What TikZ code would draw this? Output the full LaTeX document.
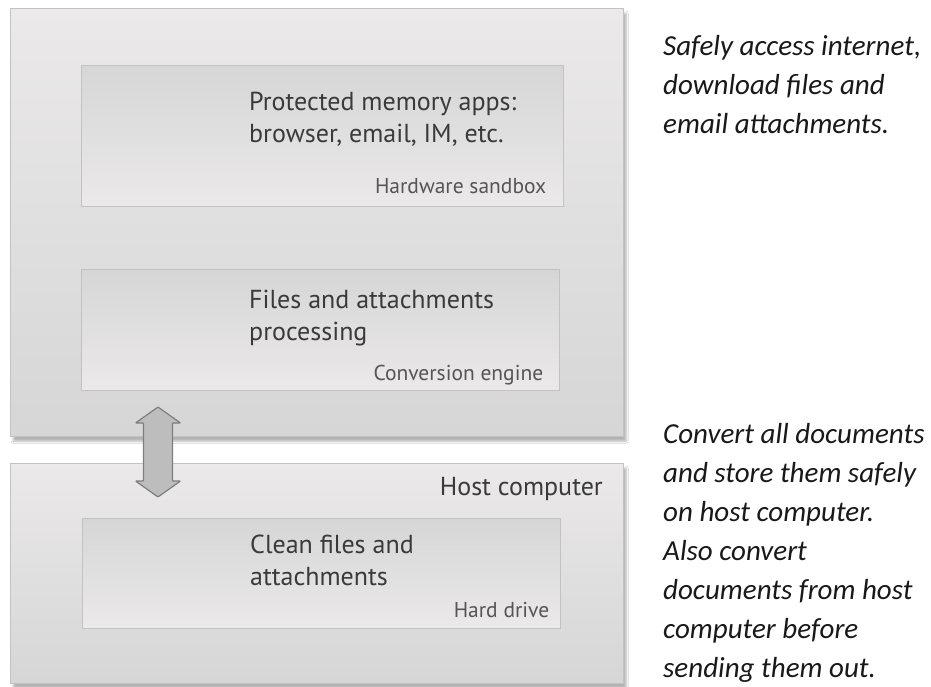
\documentclass[tikz,border=0pt]{standalone}
\usepackage{fontspec}
\setmainfont{PT Sans}
\newfontfamily\notefont{Carlito}
\usepackage{tikz}
\usetikzlibrary{positioning,calc,shadows.blur}

\definecolor{boxhi}{HTML}{EBE9EA}
\definecolor{boxlo}{HTML}{D6D6D6}
\definecolor{edge}{HTML}{C2C2C2}
\definecolor{ink}{HTML}{3A3A3A}
\definecolor{subink}{HTML}{555555}
\definecolor{arrfill}{HTML}{BDBDBD}
\definecolor{arredge}{HTML}{7E7E7E}

\begin{document}
\begin{tikzpicture}[
  x=1pt, y=-1pt,
  outer/.style={draw=edge, rectangle, anchor=north west, inner sep=0pt,
    top color=boxhi, bottom color=boxlo,
    blur shadow={shadow xshift=3pt, shadow yshift=-5pt, shadow blur steps=8, shadow opacity=30}},
  inner/.style={draw=edge, rectangle, anchor=north west, inner sep=0pt,
    top color=boxlo, bottom color=boxhi},
  title/.style={font=\fontsize{26}{32}\selectfont, text=ink, align=left, anchor=base west, inner sep=0pt},
  sub/.style={font=\fontsize{21.5}{24}\selectfont, text=subink, anchor=base east, inner sep=0pt},
  note/.style={font=\notefont\itshape\fontsize{29}{39}\selectfont, text=black!90, align=left, anchor=base west, inner sep=0pt},
  xfer/.style={fill=arrfill, draw=arredge, line width=1.2pt, rounded corners=0.8pt}
]
  \useasboundingbox[fill=white] (0,0) rectangle (931,687);

  % sandbox side
  \node[outer, minimum width=613pt, minimum height=428pt] (sbx) at (10,8) {};
  \node[inner, minimum width=482pt, minimum height=141pt] (apps) at (81,65) {};
  \node[inner, minimum width=478pt, minimum height=121pt] (conv) at (81,269) {};

  % host side
  \node[outer, minimum width=613pt, minimum height=220pt] (host) at (10,463) {};
  \node[inner, minimum width=478pt, minimum height=110pt] (disk) at (82,518) {};

  % labels in the boxes (base = last line)
  \node[title] (appsT) at (249,143) {Protected memory apps:\\browser, email, IM, etc.};
  \node[sub] (appsS) at ([shift={(-17,-13)}]apps.south east) {Hardware sandbox};
  \node[title] (convT) at (249,340) {Files and attachments\\processing};
  \node[sub] (convS) at ([shift={(-16,-10)}]conv.south east) {Conversion engine};
  \node[title] (hostT) at (603,495) [anchor=base east] {Host computer};
  \node[title] (diskT) at (250,585) {Clean files and\\attachments};
  \node[sub] (diskS) at ([shift={(-11,-11)}]disk.south east) {Hard drive};

  % two-way transfer between sandbox and host
  \coordinate (xf) at (158,452);
  \draw[xfer] ($(xf)+(0,-45)$) -- ++(22.5,16) -- ++(-8,0) -- ++(0,58) -- ++(8,0)
    -- ($(xf)+(0,45)$) -- ++(-22.5,-16) -- ++(8,0) -- ++(0,-58) -- ++(-8,0) -- cycle;

  % side notes
  \node[note] (noteT) at (663,134) {Safely access internet,\\download files and\\email attachments.};
  \node[note] (noteB) at (663,677) {Convert all documents\\and store them safely\\on host computer.\\Also convert\\documents from host\\computer before\\sending them out.};
\end{tikzpicture}
\end{document}
